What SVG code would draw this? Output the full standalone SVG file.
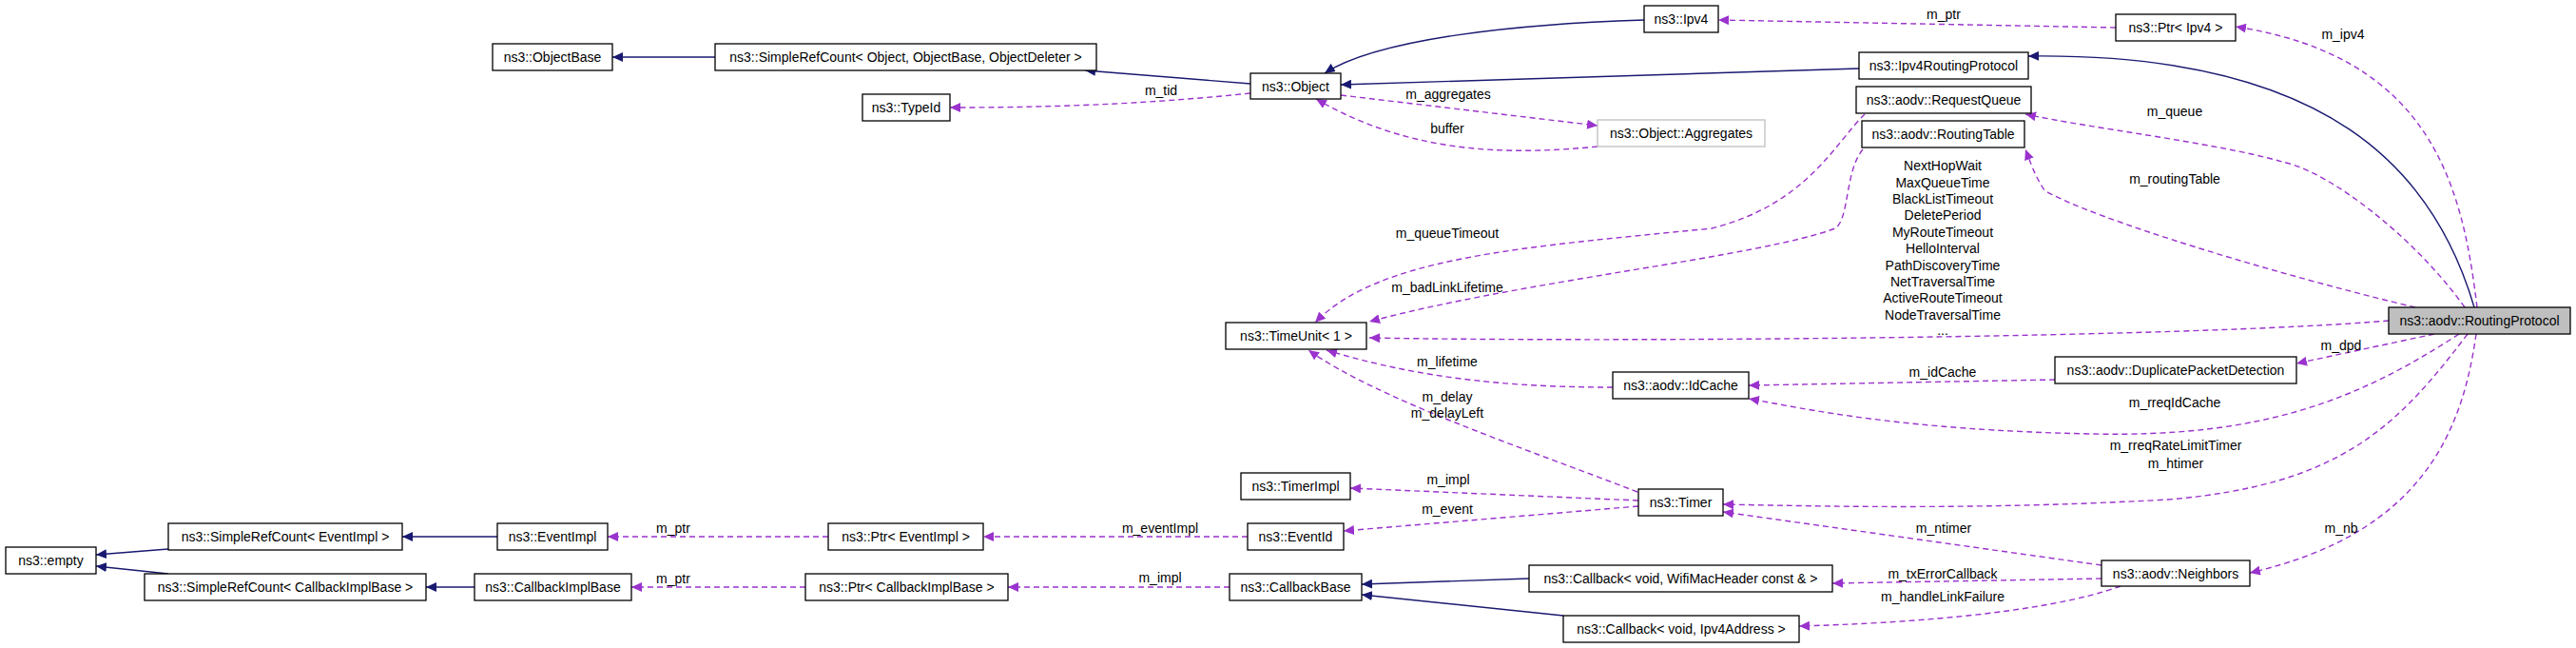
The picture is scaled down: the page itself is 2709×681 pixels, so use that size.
<svg xmlns="http://www.w3.org/2000/svg" width="2709" height="681" viewBox="0 0 2709 681">
<style>
text{font-family:"Liberation Sans",Arial,sans-serif;font-size:14px;fill:#000}
.n rect{fill:#fff;stroke:#000;stroke-width:1.3}
.g rect{stroke:#bfbfbf}
.cur rect{fill:#bfbfbf}
.n text{text-anchor:middle}
.l{text-anchor:middle}
.inh{fill:none;stroke:#191970;stroke-width:1.4;marker-end:url(#ah)}
.use{fill:none;stroke:#9a32cd;stroke-width:1.4;stroke-dasharray:6,4;marker-end:url(#au)}
</style>
<defs>
<marker id="ah" markerUnits="userSpaceOnUse" markerWidth="12" markerHeight="10" refX="11" refY="5" orient="auto"><path d="M0,0 L11,5 L0,10 z" fill="#191970"/></marker>
<marker id="au" markerUnits="userSpaceOnUse" markerWidth="12" markerHeight="10" refX="11" refY="5" orient="auto"><path d="M0,0 L11,5 L0,10 z" fill="#9a32cd"/></marker>
</defs>
<rect width="2709" height="681" fill="#fff"/>
<g id="edges">
<path class="inh" d="M752,60 L644,60"/>
<path class="inh" d="M1315,88 L1141,74"/>
<path class="inh" d="M1729,21 C1600,25 1450,40 1393,77"/>
<path class="inh" d="M1955,72 L1410,89"/>
<path class="inh" d="M2602,323 C2560,180 2450,55 2133,59"/>
<path class="use" d="M1315,98 C1200,110 1100,113 999,113"/>
<path class="use" d="M1410,100 L1680,132"/>
<path class="use" d="M1680,154 C1580,164 1480,160 1384,104"/>
<path class="use" d="M2225,29 L1807,21"/>
<path class="use" d="M2605,323 C2590,200 2560,60 2351,28"/>
<path class="use" d="M2592,323 C2540,250 2450,180 2400,170 C2330,150 2200,135 2130,120"/>
<path class="use" d="M2540,323 C2400,290 2200,230 2150,200 C2140,185 2135,170 2130,157"/>
<path class="use" d="M1961,120 C1930,150 1900,215 1800,240 C1600,260 1450,270 1383,339"/>
<path class="use" d="M1959,157 C1940,180 1945,230 1930,240 C1850,270 1600,295 1440,338"/>
<path class="use" d="M2512,337 C2300,355 1700,360 1440,355"/>
<path class="use" d="M1696,407 C1600,407 1500,400 1395,368"/>
<path class="use" d="M1722,517 C1600,470 1450,420 1376,368"/>
<path class="use" d="M2161,399 L1839,405"/>
<path class="use" d="M2586,351 C2480,420 2380,460 2200,456 C2000,452 1900,430 1839,419"/>
<path class="use" d="M2560,351 L2415,382"/>
<path class="use" d="M2595,351 C2520,450 2460,510 2280,525 C2100,535 1950,533 1812,530"/>
<path class="use" d="M2604,351 C2590,450 2550,560 2366,602"/>
<path class="use" d="M2210,594 L1812,538"/>
<path class="use" d="M2210,608 L1927,613"/>
<path class="use" d="M2230,616 C2150,645 2000,655 1892,658"/>
<path class="use" d="M1723,526 L1420,513"/>
<path class="use" d="M1723,532 L1413,558"/>
<path class="use" d="M1312,564 L1034,564"/>
<path class="use" d="M871,564 L639,564"/>
<path class="inh" d="M523,564 L423,564"/>
<path class="inh" d="M177,577 L101,583"/>
<path class="inh" d="M177,603 L101,595"/>
<path class="inh" d="M499,617 L448,617"/>
<path class="use" d="M847,617 L664,617"/>
<path class="use" d="M1293,617 L1060,617"/>
<path class="inh" d="M1608,608 L1432,614"/>
<path class="inh" d="M1644,647 L1432,625"/>
</g>
<g id="labels">
<text class="l" x="1221" y="100">m_tid</text>
<text class="l" x="1523" y="104">m_aggregates</text>
<text class="l" x="1522" y="140">buffer</text>
<text class="l" x="2044" y="20">m_ptr</text>
<text class="l" x="2464" y="41">m_ipv4</text>
<text class="l" x="2287" y="122">m_queue</text>
<text class="l" x="2287" y="193">m_routingTable</text>
<text class="l" x="1522" y="250">m_queueTimeout</text>
<text class="l" x="1522" y="307">m_badLinkLifetime</text>
<text class="l" x="2043" y="179">NextHopWait</text>
<text class="l" x="2043" y="196.5">MaxQueueTime</text>
<text class="l" x="2043" y="214">BlackListTimeout</text>
<text class="l" x="2043" y="231">DeletePeriod</text>
<text class="l" x="2043" y="248.5">MyRouteTimeout</text>
<text class="l" x="2043" y="265.5">HelloInterval</text>
<text class="l" x="2043" y="283.5">PathDiscoveryTime</text>
<text class="l" x="2043" y="300.5">NetTraversalTime</text>
<text class="l" x="2043" y="317.5">ActiveRouteTimeout</text>
<text class="l" x="2043" y="335.5">NodeTraversalTime</text>
<text class="l" x="2043" y="352">...</text>
<text class="l" x="1522" y="385">m_lifetime</text>
<text class="l" x="1522" y="422">m_delay</text>
<text class="l" x="1522" y="439">m_delayLeft</text>
<text class="l" x="2462" y="368">m_dpd</text>
<text class="l" x="2043" y="396">m_idCache</text>
<text class="l" x="2287" y="428">m_rreqIdCache</text>
<text class="l" x="2288" y="473">m_rreqRateLimitTimer</text>
<text class="l" x="2288" y="492">m_htimer</text>
<text class="l" x="2044" y="560">m_ntimer</text>
<text class="l" x="2462" y="560">m_nb</text>
<text class="l" x="2043" y="608">m_txErrorCallback</text>
<text class="l" x="2043" y="632">m_handleLinkFailure</text>
<text class="l" x="1523" y="509">m_impl</text>
<text class="l" x="1522" y="540">m_event</text>
<text class="l" x="1220" y="560">m_eventImpl</text>
<text class="l" x="1220" y="612">m_impl</text>
<text class="l" x="708" y="560">m_ptr</text>
<text class="l" x="708" y="613">m_ptr</text>
</g>
<g id="n_rp" class="n cur"><rect x="2512" y="323" width="191" height="28"/><text x="2607.5" y="342">ns3::aodv::RoutingProtocol</text></g>
<g id="n_objectbase" class="n"><rect x="518" y="46" width="126" height="28"/><text x="581" y="65">ns3::ObjectBase</text></g>
<g id="n_src_object" class="n"><rect x="752" y="46" width="401" height="28"/><text x="952.5" y="65">ns3::SimpleRefCount&lt; Object, ObjectBase, ObjectDeleter &gt;</text></g>
<g id="n_object" class="n"><rect x="1315" y="77" width="95" height="27"/><text x="1362.5" y="95.5">ns3::Object</text></g>
<g id="n_typeid" class="n"><rect x="907" y="99" width="92" height="28"/><text x="953" y="118">ns3::TypeId</text></g>
<g id="n_ipv4" class="n"><rect x="1729" y="6" width="78" height="28"/><text x="1768" y="25">ns3::Ipv4</text></g>
<g id="n_aggr" class="n g"><rect x="1680" y="126" width="176" height="28"/><text x="1768" y="145">ns3::Object::Aggregates</text></g>
<g id="n_ptripv4" class="n"><rect x="2225" y="15" width="126" height="28"/><text x="2288" y="34">ns3::Ptr&lt; Ipv4 &gt;</text></g>
<g id="n_ipv4rp" class="n"><rect x="1955" y="55" width="178" height="28"/><text x="2044" y="74">ns3::Ipv4RoutingProtocol</text></g>
<g id="n_rq" class="n"><rect x="1952" y="91" width="184" height="28"/><text x="2044" y="110">ns3::aodv::RequestQueue</text></g>
<g id="n_rt" class="n"><rect x="1958" y="127" width="171" height="28"/><text x="2043.5" y="146">ns3::aodv::RoutingTable</text></g>
<g id="n_timeunit" class="n"><rect x="1289" y="339" width="148" height="28"/><text x="1363" y="358">ns3::TimeUnit&lt; 1 &gt;</text></g>
<g id="n_idcache" class="n"><rect x="1696" y="391" width="143" height="28"/><text x="1767.5" y="410">ns3::aodv::IdCache</text></g>
<g id="n_dpd" class="n"><rect x="2161" y="375" width="254" height="28"/><text x="2288" y="394">ns3::aodv::DuplicatePacketDetection</text></g>
<g id="n_timerimpl" class="n"><rect x="1305" y="497" width="115" height="28"/><text x="1362.5" y="516">ns3::TimerImpl</text></g>
<g id="n_timer" class="n"><rect x="1723" y="514" width="89" height="28"/><text x="1767.5" y="533">ns3::Timer</text></g>
<g id="n_eventid" class="n"><rect x="1312" y="550" width="101" height="28"/><text x="1362.5" y="569">ns3::EventId</text></g>
<g id="n_ptrevent" class="n"><rect x="871" y="550" width="163" height="28"/><text x="952.5" y="569">ns3::Ptr&lt; EventImpl &gt;</text></g>
<g id="n_eventimpl" class="n"><rect x="523" y="550" width="116" height="28"/><text x="581" y="569">ns3::EventImpl</text></g>
<g id="n_src_event" class="n"><rect x="177" y="550" width="246" height="28"/><text x="300" y="569">ns3::SimpleRefCount&lt; EventImpl &gt;</text></g>
<g id="n_empty" class="n"><rect x="6" y="575" width="95" height="28"/><text x="53.5" y="594">ns3::empty</text></g>
<g id="n_src_cb" class="n"><rect x="152" y="603" width="296" height="28"/><text x="300" y="622">ns3::SimpleRefCount&lt; CallbackImplBase &gt;</text></g>
<g id="n_cbimpl" class="n"><rect x="499" y="603" width="165" height="28"/><text x="581.5" y="622">ns3::CallbackImplBase</text></g>
<g id="n_ptrcb" class="n"><rect x="847" y="603" width="213" height="28"/><text x="953.5" y="622">ns3::Ptr&lt; CallbackImplBase &gt;</text></g>
<g id="n_cbbase" class="n"><rect x="1293" y="603" width="139" height="28"/><text x="1362.5" y="622">ns3::CallbackBase</text></g>
<g id="n_cbwifi" class="n"><rect x="1608" y="594" width="319" height="28"/><text x="1767.5" y="613">ns3::Callback&lt; void, WifiMacHeader const &amp; &gt;</text></g>
<g id="n_cbipv4" class="n"><rect x="1644" y="647" width="248" height="28"/><text x="1768" y="666">ns3::Callback&lt; void, Ipv4Address &gt;</text></g>
<g id="n_nb" class="n"><rect x="2210" y="589" width="156" height="27"/><text x="2288" y="607.5">ns3::aodv::Neighbors</text></g>
</svg>
